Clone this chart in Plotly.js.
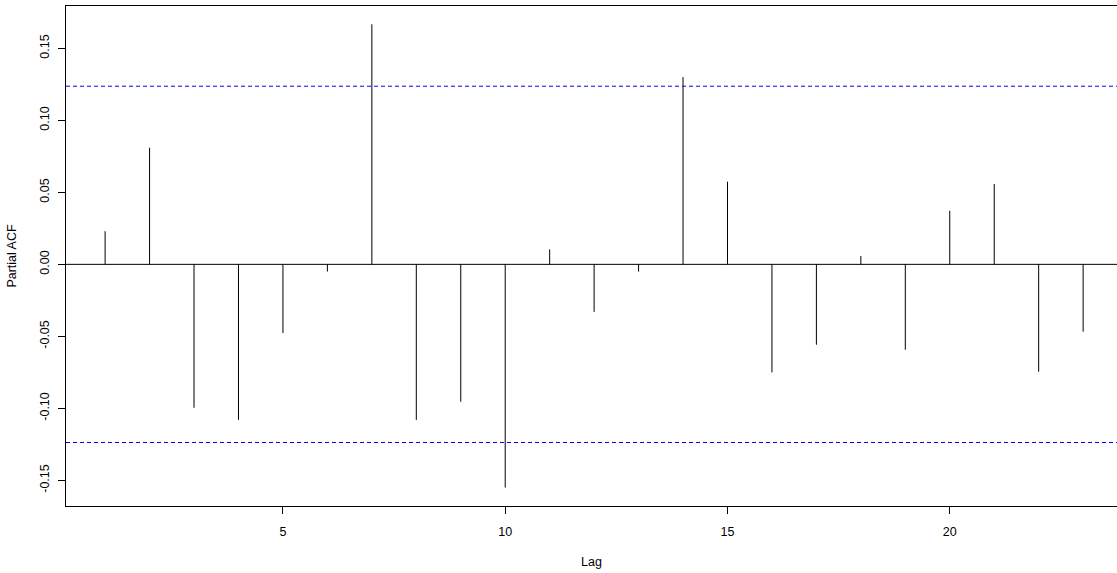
<!DOCTYPE html>
<html>
<head>
<meta charset="utf-8">
<script src="https://cdn.plot.ly/plotly-3.0.1.min.js"></script>
<style>html,body{margin:0;padding:0;background:#fff;}#chart{width:1117px;height:573px;}</style>
</head>
<body>
<div id="chart"></div>
<script>
const lags = [1,2,3,4,5,6,7,8,9,10,11,12,13,14,15,16,17,18,19,20,21,22,23];
const pacf = [0.023,0.081,-0.0996,-0.108,-0.0477,-0.005,0.1667,-0.108,-0.0954,-0.155,0.0104,-0.033,-0.005,0.130,0.0574,-0.075,-0.0558,0.0058,-0.0593,0.0372,0.0558,-0.0746,-0.0468];
const ciBound = 0.1237;
const xTicks = [5,10,15,20];
const yTicks = [-0.15,-0.10,-0.05,0.00,0.05,0.10,0.15];

const sx = [], sy = [];
lags.forEach((l,i)=>{ sx.push(l,l,null); sy.push(0,pacf[i],null); });

const font = {family:'"Liberation Sans", Arial, sans-serif', size:12.5, color:'#000'};
const xr = [0.12, 23.762];

const traces = [
  {x:sx, y:sy, type:'scatter', mode:'lines', line:{color:'#000', width:1}, hoverinfo:'skip', showlegend:false},
  {x:xr, y:[0,0], type:'scatter', mode:'lines', line:{color:'#000', width:1}, hoverinfo:'skip', showlegend:false},
  {x:xr, y:[ciBound,ciBound], type:'scatter', mode:'lines', line:{color:'#0000ff', width:1, dash:'4px,3px'}, hoverinfo:'skip', showlegend:false},
  {x:xr, y:[-ciBound,-ciBound], type:'scatter', mode:'lines', line:{color:'#0000ff', width:1, dash:'4px,3px'}, hoverinfo:'skip', showlegend:false}
];

const layout = {
  width:1117, height:573,
  margin:{l:66, r:0, t:6, b:67},
  paper_bgcolor:'#fff', plot_bgcolor:'#fff',
  font:font,
  showlegend:false,
  hovermode:false,
  xaxis:{
    range:xr, showgrid:false, zeroline:false,
    showline:true, linecolor:'#000', linewidth:1, mirror:true,
    ticks:'outside', ticklen:7, tickcolor:'#000', tickwidth:1,
    tickvals:xTicks, ticktext:xTicks.map(String),
    ticklabelstandoff:7,
    title:{text:'Lag', font:font, standoff:19}
  },
  yaxis:{
    range:[-0.1678, 0.1794], showgrid:false, zeroline:false,
    showline:true, linecolor:'#000', linewidth:1, mirror:false,
    ticks:'outside', ticklen:7, tickcolor:'#000', tickwidth:1,
    tickvals:yTicks, ticktext:yTicks.map(v=>v.toFixed(2)),
    tickangle:-90,
    ticklabelstandoff:4,
    title:{text:'Partial ACF', font:font, standoff:18}
  }
};

Plotly.newPlot('chart', traces, layout, {displayModeBar:false, staticPlot:true});
</script>
</body>
</html>
